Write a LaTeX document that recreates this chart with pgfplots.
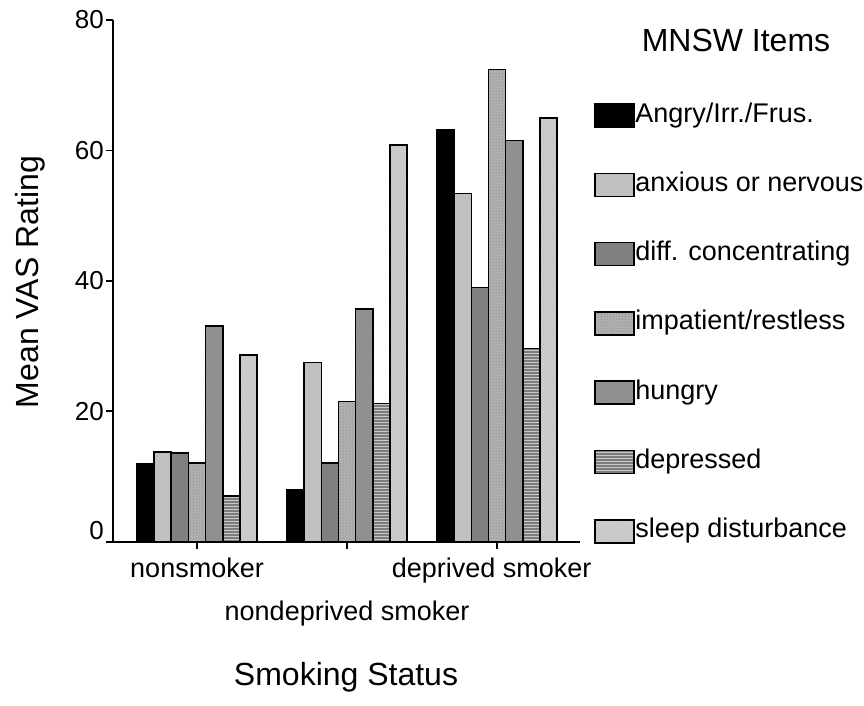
\documentclass[border=0pt]{standalone}
\usepackage{fontspec}
\setmainfont{Liberation Sans}
\usepackage{pgfplots}
\pgfplotsset{compat=1.18}
\usetikzlibrary{patterns}

\definecolor{cAnx}{HTML}{C0C0C0}
\definecolor{cDiff}{HTML}{808080}
\definecolor{cImp}{HTML}{B2B2B2}
\definecolor{cImpDot}{HTML}{8C8C8C}
\definecolor{cHun}{HTML}{9A9A9A}
\definecolor{cHunLn}{HTML}{7E7E7E}
\definecolor{cDep}{HTML}{7C7C7C}
\definecolor{cDepLn}{HTML}{C8C8C8}
\definecolor{cSlp}{HTML}{D4D4D4}
\definecolor{cSlpLn}{HTML}{B8B8B8}

\newcommand{\titlefont}{\fontsize{32}{36}\selectfont}
\newcommand{\labfont}{\fontsize{27}{30}\selectfont}

\begin{document}
\begin{tikzpicture}
\path[use as bounding box] (0,0) rectangle (864pt,-705pt);
\begin{axis}[
    at={(113pt,-541.7pt)}, anchor=south west,
    scale only axis, clip=false,
    width=467pt, height=521.7pt,
    xmin=-0.56, xmax=2.553,
    ymin=0, ymax=80,
    axis lines=left,
    axis line style={-, line width=1.6pt},
    tick style={line width=1.6pt, black},
    major tick length=7pt,
    tick align=outside,
    /pgf/number format/assume math mode=true,
    ybar=0pt, bar width=17.14pt,
    ytick={20,40,60,80},
    extra y ticks={0},
    extra y tick style={yticklabel style={yshift=11pt}},
    yticklabel style={font=\fontsize{26}{28}\selectfont, inner sep=0pt, xshift=-2pt},
    xtick={0,2},
    xticklabels={nonsmoker, {deprived smoker\hspace*{11pt}}},
    extra x ticks={1},
    extra x tick labels={nondeprived smoker},
    extra x tick style={xticklabel style={yshift=-43pt}},
    xticklabel style={font=\labfont, inner sep=0pt, yshift=-9pt},
    every axis y label/.style={at={(rel axis cs:-0.1777,0.4978)}, rotate=90, anchor=center, font=\titlefont},
    ylabel={Mean VAS Rating},
    every axis x label/.style={at={(rel axis cs:0.499,-0.26)}, anchor=center, font=\titlefont},
    xlabel={Smoking Status},
    legend cell align=left,
    legend style={at={(1.0235,0.845)}, anchor=north west, draw=none, fill=none,
        font=\labfont, row sep=44.3pt, column sep=0.5pt,
        nodes={inner sep=0pt, text height=19pt, text depth=6pt}},
    legend image code/.code={\draw[#1, line width=1.6pt] (0pt,-11.5pt) rectangle (39pt,11.5pt);},
    every axis plot/.append style={line width=1.6pt, draw=black},
]
\addplot[fill=black] coordinates {(0,12.0) (1,7.9) (2,63.1)};
\addplot[fill=cAnx] coordinates {(0,13.8) (1,27.5) (2,53.4)};
\addplot[fill=cDiff] coordinates {(0,13.6) (1,12.1) (2,39.0)};
\addplot[fill=cImp, postaction={pattern=crosshatch dots, pattern color=cImpDot}] coordinates {(0,12.1) (1,21.5) (2,72.4)};
\addplot[fill=cHun, postaction={pattern=north east lines, pattern color=cHunLn}] coordinates {(0,33.1) (1,35.7) (2,61.5)};
\addplot[fill=cDep, postaction={pattern=horizontal lines, pattern color=cDepLn}] coordinates {(0,7.0) (1,21.2) (2,29.6)};
\addplot[fill=cSlp, postaction={pattern=north east lines, pattern color=cSlpLn}] coordinates {(0,28.6) (1,60.8) (2,65.0)};
\legend{Angry/Irr./Frus., anxious or nervous, diff. concentrating, impatient/restless, hungry, depressed, sleep disturbance}
\node[font=\titlefont] at (rel axis cs:1.334,0.9617) {MNSW Items};
\end{axis}
\end{tikzpicture}
\end{document}
